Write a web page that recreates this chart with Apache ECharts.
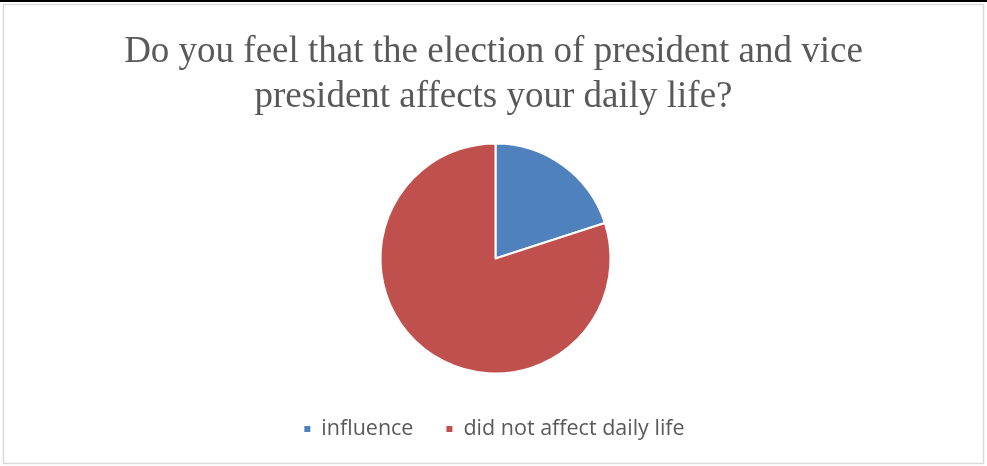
<!DOCTYPE html>
<html>
<head>
<meta charset="utf-8">
<script src="https://cdn.jsdelivr.net/npm/echarts@6/dist/echarts.min.js"></script>
<style>
  html, body { margin: 0; padding: 0; background: #fff; }
  #chart { width: 987px; height: 466px; }
</style>
</head>
<body>
<div id="chart"></div>
<script>
// Survey answers: share of respondents per answer (percent)
const categories = ['influence', 'did not affect daily life'];
const shares = [20, 80];
const colors = ['#4F81BD', '#C0504D'];

const chart = echarts.init(document.getElementById('chart'), null, { renderer: 'canvas' });

chart.setOption({
  animation: false,
  backgroundColor: '#ffffff',
  title: {
    text: 'Do you feel that the election of president and vice\npresident affects your daily life?',
    left: 'center',
    top: 25,
    textStyle: {
      fontFamily: 'Liberation Serif',
      fontWeight: 'normal',
      fontSize: 37,
      lineHeight: 45,
      color: '#595959'
    }
  },
  legend: {
    bottom: 21,
    left: 'center',
    itemWidth: 8,
    itemHeight: 8,
    itemGap: 31,
    icon: 'rect',
    textStyle: {
      fontFamily: 'Open Sans',
      fontSize: 21.5,
      color: '#595959',
      padding: [0, 0, 0, 5]
    },
    data: categories
  },
  graphic: [
    { type: 'rect', shape: { x: 0, y: 0, width: 987, height: 2 }, style: { fill: '#000' }, z: 10 },
    { type: 'rect', shape: { x: 3.5, y: 4.5, width: 980, height: 459 }, style: { fill: 'none', stroke: '#d9d9d9', lineWidth: 1.5 }, z: 10 }
  ],
  series: [{
    type: 'pie',
    center: [495.5, 258.5],
    radius: 115,
    startAngle: 90,
    clockwise: true,
    label: { show: false },
    labelLine: { show: false },
    emphasis: { disabled: true },
    itemStyle: { borderColor: '#ffffff', borderWidth: 2 },
    data: categories.map((name, i) => ({ name, value: shares[i], itemStyle: { color: colors[i] } }))
  }]
});
</script>
</body>
</html>
